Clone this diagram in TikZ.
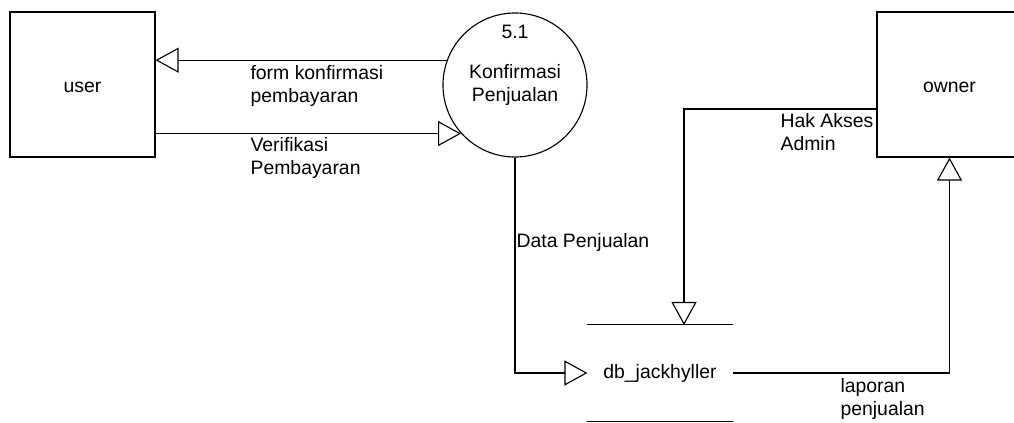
\documentclass[tikz,border=0pt]{standalone}
\usepackage{fontspec}
\setmainfont{Liberation Sans}
\usetikzlibrary{arrows.meta}

\begin{document}
\begin{tikzpicture}[x=0.025cm, y=-0.025cm, line width=0.8pt,
    font=\fontsize{13.8}{16.3}\selectfont,
    flow/.style={-{Triangle[open, length=0.575cm, width=0.625cm]}},
    lbl/.style={anchor=north west, align=left, inner sep=0pt}]
      \useasboundingbox (0,0) rectangle (1014,422);

      \node[draw, minimum width=3.625cm, minimum height=3.625cm, inner sep=0pt, text height=0.4cm] (user) at (82.5,84.5) {user};
      \node[draw, minimum width=3.625cm, minimum height=3.625cm, inner sep=0pt, text height=0.4cm] (owner) at (949.5,84.5) {owner};
      \node[circle, draw, minimum size=3.6cm, inner sep=0pt, align=center] (proc) at (515,85) {Konfirmasi\\Penjualan};
      \node (num) at (515,32) {5.1};
      \node[minimum width=3.6cm, minimum height=2.4cm, inner sep=0pt] (db) at (660,373) {db\_jackhyller};
      \draw (db.north west) -- (db.north east);
      \draw (db.south west) -- (db.south east);

      \coordinate (hak) at (877,109);
      \coordinate (dbin) at (684,325);

      \draw[flow] (proc.160.5) -- (proc.160.5 -| user.east);
      \draw[flow] (user.east |- proc.222.9) -- (proc.222.9);
      \draw[flow] (proc.south) |- (db.west);
      \draw[flow] (hak) -| (dbin);
      \draw[flow] (db.east) -| (owner.south);

      \node[lbl] (l1) at (250,65) {form konfirmasi\\pembayaran};
      \node[lbl] (l2) at (250,137) {Verifikasi\\Pembayaran};
      \node[lbl] (l3) at (516,233) {Data Penjualan};
      \node[lbl] (l4) at (780,113) {Hak Akses\\Admin};
      \node[lbl] (l5) at (840,378) {laporan\\penjualan};
    \end{tikzpicture}
\end{document}
